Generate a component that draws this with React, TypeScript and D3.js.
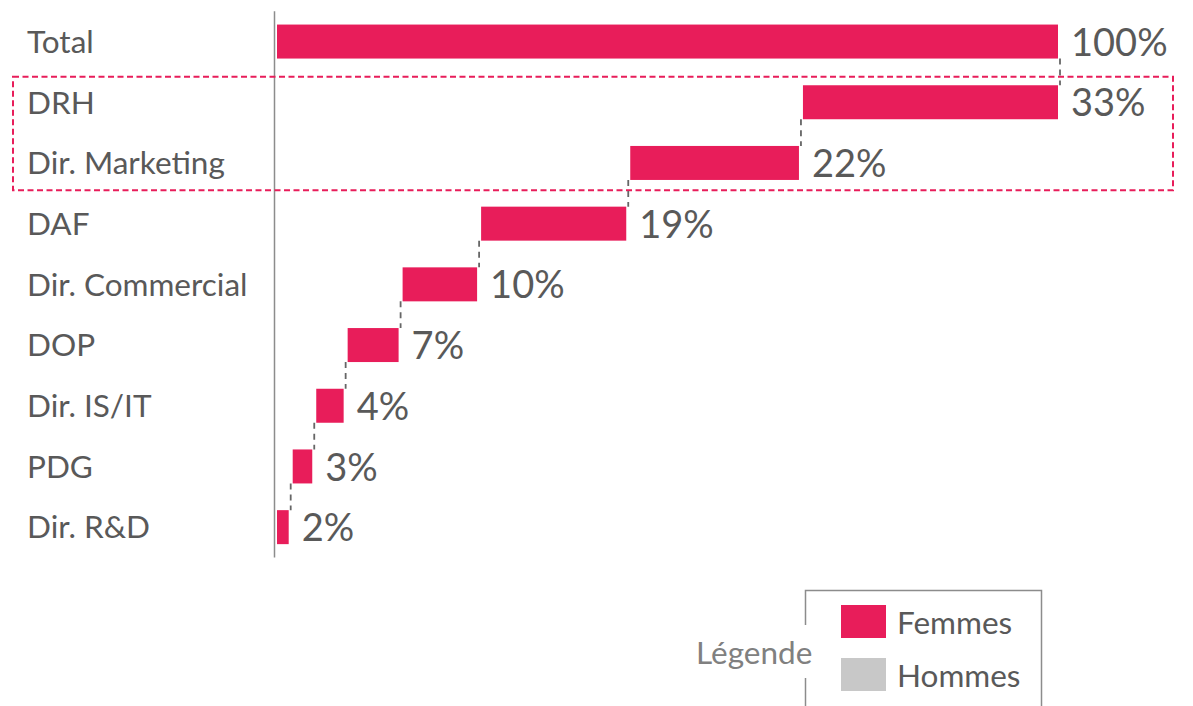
import React from 'react';
import * as d3 from 'd3';

const categories = ['Total', 'DRH', 'Dir. Marketing', 'DAF', 'Dir. Commercial', 'DOP', 'Dir. IS/IT', 'PDG', 'Dir. R&D'];
const values = [100, 33, 22, 19, 10, 7, 4, 3, 2];
const highlighted = ['DRH', 'Dir. Marketing'];
const legendLabels = ['Femmes', 'Hommes'];

const RED = '#E81D5A';
const TEXT = '#595959';
const FONT = 'Lato, "Open Sans", sans-serif';

const W = 1193;
const H = 706;

export default function App() {
  // waterfall: first bar is the total, the others stack down from it
  let cursor = values[0];
  const bars = categories.map((c, i) => {
    if (i === 0) return { name: c, value: values[i], x0: 0, x1: values[i] };
    const b = { name: c, value: values[i], x0: cursor - values[i], x1: cursor };
    cursor -= values[i];
    return b;
  });

  const x = d3.scaleLinear().domain([0, 100]).range([275, 1060]);
  const y = d3.scaleBand().domain(categories).range([11.2, 557.5]).paddingInner(0.44).paddingOuter(0.22);
  const bw = y.bandwidth();
  const step = y.step();

  const hlTop = y(highlighted[0])! - 0.14 * step;
  const hlBottom = y(highlighted[highlighted.length - 1])! + bw + 0.17 * step;

  return (
    <svg width={W} height={H} style={{ position: 'absolute', left: 0, top: 0, background: '#fff' }}>
      {/* category axis line */}
      <line x1={x(0) - 0.5} x2={x(0) - 0.5} y1={y.range()[0]} y2={y.range()[1]} stroke="#8c8c8c" strokeWidth={1.5} />

      {/* highlight frame */}
      <rect x={13} y={hlTop} width={1160} height={hlBottom - hlTop} fill="none" stroke={RED} strokeWidth={2} strokeDasharray="6,3.5" />

      {/* connectors */}
      {bars.slice(1).map((b, i) => (
        <line key={'c' + i} x1={x(b.x1)} x2={x(b.x1)} y1={y(bars[i].name)! + bw} y2={y(b.name)!}
          stroke="#666" strokeWidth={1.8} strokeDasharray="6,5" />
      ))}

      {bars.map((b) => {
        const left = x(b.x0) + 2;
        const right = x(b.x1) - 2;
        const cy = y(b.name)! + bw / 2;
        return (
          <g key={b.name}>
            <rect x={left} y={y(b.name)} width={Math.max(0, right - left)} height={bw} fill={RED} />
            <text x={27} y={cy} dy="0.36em" fontFamily={FONT} fontSize={31.5} fill={TEXT}>{b.name}</text>
            <text x={right + 13} y={cy} dy="0.37em" fontFamily={FONT} fontSize={38} fill={TEXT}>{b.value}%</text>
          </g>
        );
      })}

      {/* legend */}
      <g>
        <path d="M805.5,625 V590.5 H1041.5 V706" fill="none" stroke="#8c8c8c" strokeWidth={1.5} />
        <line x1={805.5} x2={805.5} y1={678} y2={706} stroke="#8c8c8c" strokeWidth={1.5} />
        <text x={696} y={653} dy="0.35em" fontFamily={FONT} fontSize={31.5} fill="#808080">Légende</text>
        {legendLabels.map((l, i) => (
          <g key={l}>
            <rect x={841} y={605 + i * 53} width={45} height={33} fill={i === 0 ? RED : '#C8C8C8'} />
            <text x={897} y={623 + i * 53} dy="0.36em" fontFamily={FONT} fontSize={31.5} fill={TEXT}>{l}</text>
          </g>
        ))}
      </g>
    </svg>
  );
}
